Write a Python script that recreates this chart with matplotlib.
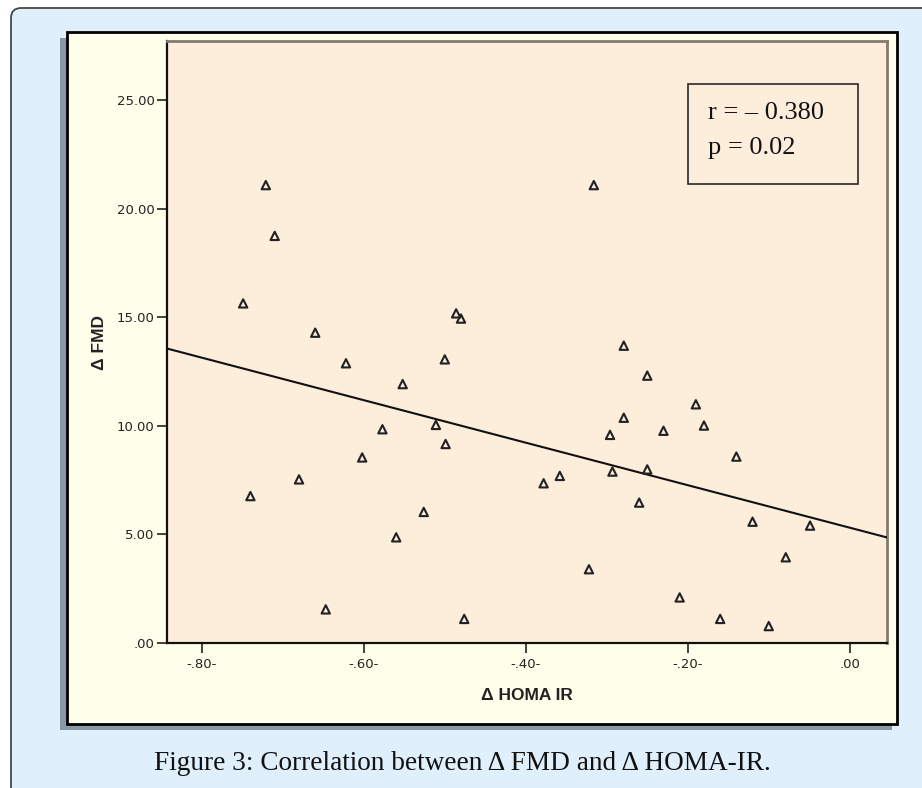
import numpy as np
import matplotlib
matplotlib.use("Agg")
import matplotlib.pyplot as plt
from matplotlib.patches import Rectangle, FancyBboxPatch
from matplotlib.transforms import Affine2D

# ---- data ----
homa_ir = [-0.749, -0.740, -0.721, -0.710, -0.680, -0.660, -0.647, -0.622, -0.602,
           -0.577, -0.560, -0.552, -0.526, -0.511, -0.500, -0.499, -0.486, -0.480,
           -0.476, -0.378, -0.358, -0.322, -0.316, -0.296, -0.293, -0.279, -0.279,
           -0.260, -0.250, -0.250, -0.230, -0.210, -0.190, -0.180, -0.160, -0.140,
           -0.120, -0.100, -0.079, -0.049]
fmd = [15.65, 6.77, 21.10, 18.76, 7.54, 14.30, 1.55, 12.89, 8.55,
       9.85, 4.87, 11.93, 6.04, 10.05, 13.07, 9.17, 15.19, 14.95,
       1.11, 7.36, 7.70, 3.40, 21.10, 9.59, 7.90, 13.70, 10.38,
       6.47, 12.32, 8.00, 9.78, 2.10, 11.00, 10.02, 1.11, 8.59,
       5.59, 0.78, 3.95, 5.41]
x_ticks = [-0.80, -0.60, -0.40, -0.20, 0.00]
x_ticklabels = ["-.80-", "-.60-", "-.40-", "-.20-", ".00"]
y_ticks = [0, 5, 10, 15, 20, 25]
y_ticklabels = [".00", "5.00", "10.00", "15.00", "20.00", "25.00"]
stats_text = ["r = \u2013 0.380", "p = 0.02"]
caption = "Figure 3: Correlation between \u0394 FMD and \u0394 HOMA-IR."

W, H = 922, 788
fig = plt.figure(figsize=(W / 100, H / 100), dpi=100)
fig.patch.set_facecolor("white")
pxT = Affine2D().scale(1 / W, -1 / H).translate(0, 1) + fig.transFigure

# outer rounded frame
fig.patches.append(FancyBboxPatch((11, 8), 940, 820, boxstyle="round,pad=0,rounding_size=10",
                                  transform=pxT, facecolor="#dff0fc", edgecolor="#3a3a3a",
                                  linewidth=1.2, zorder=0))
# panel shadow
fig.patches.append(Rectangle((60, 38), 832, 692, transform=pxT, facecolor="#8a98a5",
                             edgecolor="none", zorder=1))
# panel
fig.patches.append(Rectangle((67, 32), 830, 692, transform=pxT, facecolor="#fffeeb",
                             edgecolor="black", linewidth=2, zorder=2))

# axes
ax = fig.add_axes([167 / W, 1 - 643 / H, 720 / W, 602 / H], zorder=3)
ax.set_facecolor("#fdeddb")
ax.set_xlim(-0.843, 0.046)
ax.set_ylim(0, 27.74)

xs = np.array(homa_ir)
ys = np.array(fmd)
slope, intercept = np.polyfit(xs, ys, 1)
xl = np.array(ax.get_xlim())
ax.plot(xl, intercept + slope * xl, color="#111111", linewidth=1.5, zorder=3)

ax.scatter(xs, ys, marker="^", s=36, facecolors="none", edgecolors="#222222",
           linewidths=1.5, zorder=4)

ax.set_xticks(x_ticks)
ax.set_xticklabels(x_ticklabels)
ax.set_yticks(y_ticks)
ax.set_yticklabels(y_ticklabels)
ax.tick_params(axis="both", direction="out", length=7, width=1.2, color="#222222",
               labelsize=9.5, labelcolor="#222222")
ax.tick_params(axis="x", pad=4)
ax.tick_params(axis="y", pad=2)
for lab in ax.get_xticklabels() + ax.get_yticklabels():
    lab.set_family("DejaVu Sans")

for s in ["left", "bottom"]:
    ax.spines[s].set_color("#111111")
    ax.spines[s].set_linewidth(1.6)
for s in ["top", "right"]:
    ax.spines[s].set_color("#857a6c")
    ax.spines[s].set_linewidth(2)

ax.set_xlabel("\u0394 HOMA IR", fontfamily="Liberation Sans", fontweight="bold",
              fontsize=12.5, color="#222222", labelpad=12)
ax.set_ylabel("\u0394 FMD", fontfamily="Liberation Sans", fontweight="bold",
              fontsize=12.5, color="#222222", labelpad=7)

# stats box
ax.add_patch(Rectangle((0.7236, 0.7625), 0.236, 0.166, transform=ax.transAxes,
                       facecolor="none", edgecolor="#2a2a2a", linewidth=1.2, zorder=5))
ax.text(0.751, 0.880, stats_text[0], transform=ax.transAxes, fontfamily="Liberation Serif",
        fontsize=19, va="center", ha="left", color="#111111", zorder=6)
ax.text(0.751, 0.822, stats_text[1], transform=ax.transAxes, fontfamily="Liberation Serif",
        fontsize=19, va="center", ha="left", color="#111111", zorder=6)

# caption
fig.text(462 / W, 1 - 764 / H, caption, fontfamily="Liberation Serif", fontsize=19.6,
         ha="center", va="center", color="#111111")

fig.savefig("out.png", dpi=100, facecolor=fig.get_facecolor())
